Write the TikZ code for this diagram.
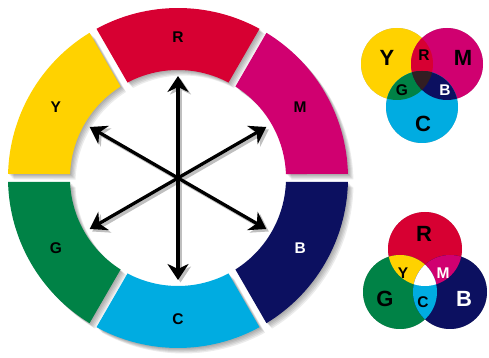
\documentclass[tikz,border=0pt]{standalone}
\usepackage{fontspec}
\setmainfont{Liberation Sans}
\usepackage{tikz}
\usetikzlibrary{arrows.meta}

\definecolor{wheelR}{RGB}{215,0,50}
\definecolor{wheelM}{RGB}{208,0,112}
\definecolor{wheelB}{RGB}{12,16,96}
\definecolor{wheelC}{RGB}{0,172,225}
\definecolor{wheelG}{RGB}{0,130,70}
\definecolor{wheelY}{RGB}{255,210,0}
\definecolor{venndark}{RGB}{50,30,35}

\begin{document}
\begin{tikzpicture}[
			x=1pt, y=1pt,
			lbl/.style={font=\bfseries\fontsize{15.5}{15.5}\selectfont},
			biglbl/.style={font=\bfseries\fontsize{22}{22}\selectfont},
			shade/.style={black, opacity=0.075},
			dblarrow/.style={{Stealth[length=16pt,width=21pt,inset=5pt]}-{Stealth[length=16pt,width=21pt,inset=5pt]}, line width=3.3pt}
			]
			\useasboundingbox (0,0) rectangle (489,358);
			\coordinate (hub) at (178,180);
			% colour wheel
			\begin{scope}[shift={(hub)}]
				\foreach \a in {90,30,-30,-90,-150,150}
					\foreach \k in {1,...,5}
						\fill[shade, shift={(\k*1.1,-\k*1.1)}] (\a+28.65:170) arc[start angle=\a+28.65, end angle=\a-28.65, radius=170]
							-- (\a-27.88:108) arc[start angle=\a-27.88, end angle=\a+27.88, radius=108] -- cycle;
				\foreach \a/\c in {90/wheelR, 30/wheelM, -30/wheelB, -90/wheelC, -150/wheelG, 150/wheelY}
					\fill[\c] (\a+28.65:170) arc[start angle=\a+28.65, end angle=\a-28.65, radius=170]
						-- (\a-27.88:108) arc[start angle=\a-27.88, end angle=\a+27.88, radius=108] -- cycle;
			\end{scope}
			\path (hub) ++(90:141) node[lbl] (lR) {R};
			\path (hub) ++(30:141) node[lbl] (lM) {M};
			\path (hub) ++(-30:141) node[lbl, white] (lB) {B};
			\path (hub) ++(-90:141) node[lbl] (lC) {C};
			\path (hub) ++(-150:141) node[lbl] (lG) {G};
			\path (hub) ++(150:141) node[lbl] (lY) {Y};
			% arrows
			\path (hub) ++(90:102) coordinate (aR);
			\path (hub) ++(30:102) coordinate (aM);
			\path (hub) ++(-30:102) coordinate (aB);
			\path (hub) ++(-90:102) coordinate (aC);
			\path (hub) ++(-150:102) coordinate (aG);
			\path (hub) ++(150:102) coordinate (aY);
			\begin{scope}[transform canvas={shift={(2.5pt,-2.5pt)}}]
				\draw[dblarrow, black!25] (aR) -- (aC);
				\draw[dblarrow, black!25] (aM) -- (aG);
				\draw[dblarrow, black!25] (aY) -- (aB);
			\end{scope}
			\draw[dblarrow] (aR) -- (aC);
			\draw[dblarrow] (aM) -- (aG);
			\draw[dblarrow] (aY) -- (aB);
			% subtractive circles
			\coordinate (vy) at (397,294);
			\coordinate (vm) at (447,294);
			\coordinate (vc) at (422,251);
			% additive circles
			\coordinate (vr) at (425,109);
			\coordinate (vg) at (400,66);
			\coordinate (vb) at (450,66);
			\foreach \k in {1,...,5}{
				\fill[shade, shift={(\k*1.1,-\k*1.1)}] (vy) circle[radius=36] (vm) circle[radius=36] (vc) circle[radius=36];
				\fill[shade, shift={(\k*1.1,-\k*1.1)}] (vr) circle[radius=37] (vg) circle[radius=37] (vb) circle[radius=37];
			}
			\fill[wheelY] (vy) circle[radius=36];
			\fill[wheelM] (vm) circle[radius=36];
			\fill[wheelC] (vc) circle[radius=36];
			\begin{scope}
				\clip (vy) circle[radius=36];
				\fill[wheelR] (vm) circle[radius=36];
				\fill[wheelG] (vc) circle[radius=36];
			\end{scope}
			\begin{scope}
				\clip (vm) circle[radius=36];
				\fill[wheelB] (vc) circle[radius=36];
				\clip (vy) circle[radius=36];
				\fill[venndark] (vc) circle[radius=36];
			\end{scope}
			\node[biglbl] (sY) at (387,300) {Y};
			\node[biglbl] (sM) at (463,300) {M};
			\node[biglbl] (sC) at (423,234) {C};
			\node[lbl] (sR) at (424,303) {R};
			\node[lbl] (sG) at (402,268) {G};
			\node[lbl, white] (sB) at (445,268) {B};
			\fill[wheelR] (vr) circle[radius=37];
			\fill[wheelG] (vg) circle[radius=37];
			\fill[wheelB] (vb) circle[radius=37];
			\begin{scope}
				\clip (vr) circle[radius=37];
				\fill[wheelY] (vg) circle[radius=37];
				\fill[wheelM] (vb) circle[radius=37];
			\end{scope}
			\begin{scope}
				\clip (vg) circle[radius=37];
				\fill[wheelC] (vb) circle[radius=37];
				\clip (vr) circle[radius=37];
				\fill[white] (vb) circle[radius=37];
			\end{scope}
			\node[biglbl] (pR) at (424,124) {R};
			\node[biglbl] (pG) at (385,59) {G};
			\node[biglbl, white] (pB) at (464,59) {B};
			\node[lbl] (pY) at (403,85) {Y};
			\node[lbl, white] (pM) at (443,85) {M};
			\node[lbl] (pC) at (423,56) {C};
		\end{tikzpicture}
\end{document}
